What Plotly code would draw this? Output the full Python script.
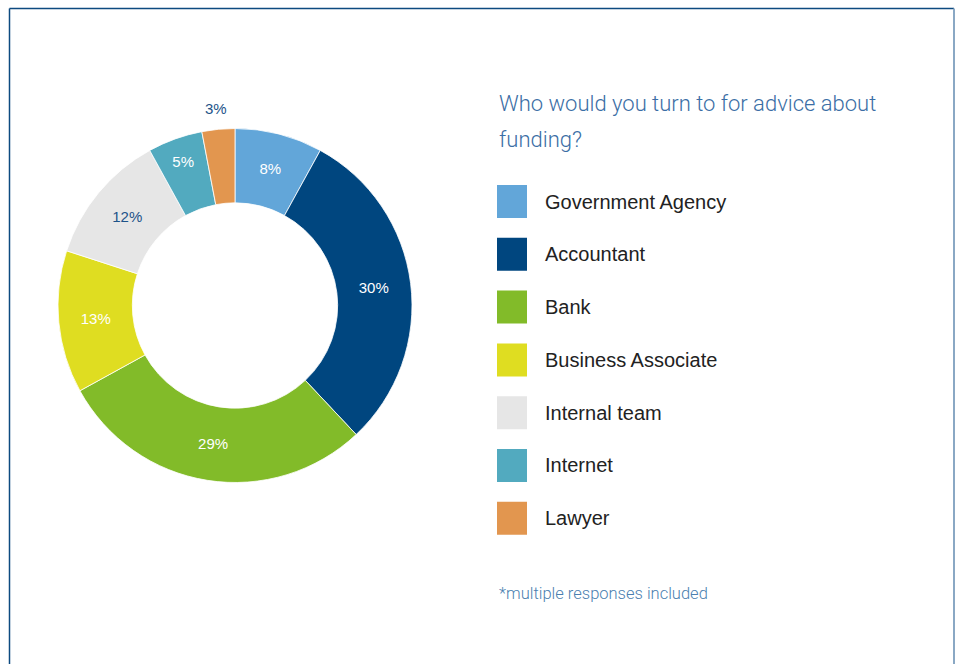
import math
import plotly.graph_objects as go

# Survey data: who respondents turn to for funding advice
categories = ["Government Agency", "Accountant", "Bank", "Business Associate",
              "Internal team", "Internet", "Lawyer"]
shares = [8, 30, 29, 13, 12, 5, 3]
slice_colors = ["#62a6d9", "#00467f", "#82bb29", "#dfdd21",
                "#e6e6e6", "#52aabf", "#e2964f"]
label_colors = ["#ffffff", "#ffffff", "#ffffff", "#ffffff",
                "#1d5389", "#ffffff", "#1d5389"]
# the smallest slice gets its label outside the ring, drawn separately
label_positions = ["inside"] * 6 + ["none"]

W, H = 962, 664
cx, cy, R = 235, 305.5, 177  # donut centre and outer radius in pixels
LABEL_FONT = "Liberation Sans, Arial, sans-serif"

fig = go.Figure()
fig.add_trace(go.Pie(
    labels=categories,
    values=shares,
    sort=False,
    direction="clockwise",
    rotation=0,
    hole=0.58,
    marker=dict(colors=slice_colors, line=dict(color="white", width=0.8)),
    texttemplate="%{value}%",
    textposition=label_positions,
    insidetextorientation="horizontal",
    textfont=dict(family=LABEL_FONT, size=15, color=label_colors),
    hoverinfo="label+value",
    showlegend=False,
    domain=dict(x=[(cx - R) / W, (cx + R) / W],
                y=[(H - cy - R) / H, (H - cy + R) / H]),
))

shapes = []
annotations = []

# Outside label for the last slice, placed above the middle of its arc
total = sum(shares)
mid_frac = (total - shares[-1] / 2) / total
ang = 2 * math.pi * mid_frac
r_out = R + 21
annotations.append(dict(text=f"{shares[-1]}%", xref="paper", yref="paper",
                        x=(cx + r_out * math.sin(ang)) / W,
                        y=1 - (cy - r_out * math.cos(ang)) / H,
                        xanchor="center", yanchor="middle", showarrow=False,
                        font=dict(family=LABEL_FONT, size=15,
                                  color=label_colors[-1])))

# Custom legend: large colour swatches with labels
sw_left, sw_w, sw_h = 497, 30, 33
first_top, step = 185, 52.8
for i, (name, col) in enumerate(zip(categories, slice_colors)):
    top = first_top + i * step
    shapes.append(dict(type="rect", xref="paper", yref="paper",
                       x0=sw_left / W, x1=(sw_left + sw_w) / W,
                       y0=1 - (top + sw_h) / H, y1=1 - top / H,
                       fillcolor=col, line=dict(width=0)))
    annotations.append(dict(text=name, xref="paper", yref="paper",
                            x=543 / W, y=1 - (top + sw_h / 2) / H,
                            xanchor="left", yanchor="middle", showarrow=False,
                            font=dict(family=LABEL_FONT, size=20,
                                      color="#222222")))

# Heading (two lines) and footnote
heading_font = dict(family="Roboto, Liberation Sans, sans-serif",
                    size=22, color="#3b6ea5", weight=300)
for line, yc in [("Who would you turn to for advice about", 103),
                 ("funding?", 140)]:
    annotations.append(dict(text=line, xref="paper", yref="paper",
                            x=497 / W, y=1 - yc / H,
                            xanchor="left", yanchor="middle",
                            showarrow=False, font=heading_font))
annotations.append(dict(text="*multiple responses included",
                        xref="paper", yref="paper", x=497 / W, y=1 - 593 / H,
                        xanchor="left", yanchor="middle", showarrow=False,
                        font=dict(family="Roboto, Liberation Sans, sans-serif",
                                  size=16.5, color="#4b7fb0", weight=300)))

# Frame lines around the panel
frame = "#0d4a80"
shapes.append(dict(type="line", xref="paper", yref="paper",
                   x0=9.5 / W, x1=954 / W, y0=1 - 8.5 / H, y1=1 - 8.5 / H,
                   line=dict(color=frame, width=1.5)))
shapes.append(dict(type="line", xref="paper", yref="paper",
                   x0=9.5 / W, x1=9.5 / W, y0=1 - 8.5 / H, y1=-0.01,
                   line=dict(color=frame, width=1.5)))
shapes.append(dict(type="line", xref="paper", yref="paper",
                   x0=954 / W, x1=954 / W, y0=1 - 8.5 / H, y1=-0.01,
                   line=dict(color="#8aa8c4", width=2)))

fig.update_layout(
    width=W, height=H,
    margin=dict(l=0, r=0, t=0, b=0),
    paper_bgcolor="white",
    plot_bgcolor="white",
    shapes=shapes,
    annotations=annotations,
)

fig.write_html("out.html")
